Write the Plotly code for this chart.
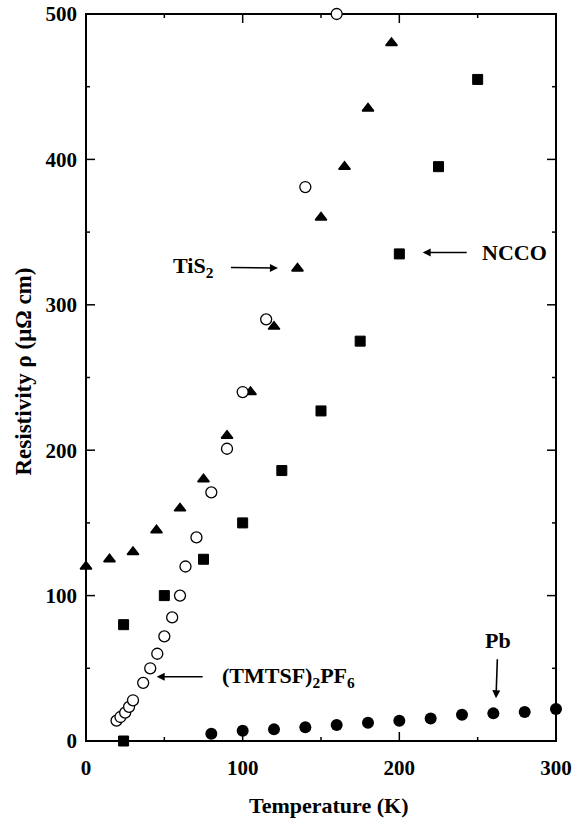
import plotly.graph_objects as go

# TiS2 (filled triangles)
tis2_T = [0, 15, 30, 45, 60, 75, 90, 105, 120, 135, 150, 165, 180, 195]
tis2_rho = [120, 125, 130, 145, 160, 180, 210, 240, 285, 325, 360, 395, 435, 480]

# NCCO (filled squares)
ncco_T = [24, 24, 50, 75, 100, 125, 150, 175, 200, 225, 250]
ncco_rho = [0, 80, 100, 125, 150, 186, 227, 275, 335, 395, 455]

# (TMTSF)2PF6 (open circles)
tmtsf_T = [19.5, 22, 25, 27.5, 30, 36.5, 41, 45.5, 50, 55, 60, 63.5, 70.5, 80, 90, 100, 115, 140, 160]
tmtsf_rho = [14, 16.5, 19.5, 23.5, 28, 40, 50, 60, 72, 85, 100, 120, 140, 171, 201, 240, 290, 381, 500]

# Pb (filled circles)
pb_T = [80, 100, 120, 140, 160, 180, 200, 220, 240, 260, 280, 300]
pb_rho = [5, 7, 8, 9.5, 11, 12.5, 14, 15.5, 18, 19, 20, 22]

x_range = [0, 300]
y_range = [0, 500]
x_ticks = [0, 100, 200, 300]
x_minor = [50, 150, 250]
y_ticks = [0, 100, 200, 300, 400, 500]
y_minor = [50, 150, 250, 350, 450]

FONT = "Liberation Serif"
BLACK = "#000000"

W, H = 574, 821
ML, MR, MT, MB = 86, 18, 14, 80
PW, PH = W - ML - MR, H - MT - MB
px_per_x = PW / (x_range[1] - x_range[0])
px_per_y = PH / (y_range[1] - y_range[0])

# plotly draws "line-ew"/"line-ns" symbols 1.4 x the marker size long
LINE_SYM = 1.4

fig = go.Figure()

x0, x1 = x_range
y0, y1 = y_range
xm, ym = (x0 + x1) / 2, (y0 + y1) / 2

# ---- plot frame (line-shaped markers spanning each side) ----
fig.add_trace(go.Scatter(x=[xm, xm], y=[y0, y1], mode="markers", cliponaxis=False, hoverinfo="skip",
                         marker=dict(symbol="line-ew", size=(PW + 2) / LINE_SYM, color=BLACK,
                                     line=dict(color=BLACK, width=2))))
fig.add_trace(go.Scatter(x=[x0, x1], y=[ym, ym], mode="markers", cliponaxis=False, hoverinfo="skip",
                         marker=dict(symbol="line-ns", size=(PH + 2) / LINE_SYM, color=BLACK,
                                     line=dict(color=BLACK, width=2))))

# ---- tick marks pointing inward on all four sides ----
def xtick_trace(vals, length):
    off = length / 2 / px_per_y
    xs = [v for v in vals for _ in (0, 1)]
    ys = [y for _ in vals for y in (y0 + off, y1 - off)]
    return go.Scatter(x=xs, y=ys, mode="markers", cliponaxis=False, hoverinfo="skip",
                      marker=dict(symbol="line-ns", size=length / LINE_SYM, color=BLACK,
                                  line=dict(color=BLACK, width=1.5)))

def ytick_trace(vals, length):
    off = length / 2 / px_per_x
    ys = [v for v in vals for _ in (0, 1)]
    xs = [x for _ in vals for x in (x0 + off, x1 - off)]
    return go.Scatter(x=xs, y=ys, mode="markers", cliponaxis=False, hoverinfo="skip",
                      marker=dict(symbol="line-ew", size=length / LINE_SYM, color=BLACK,
                                  line=dict(color=BLACK, width=1.5)))

fig.add_trace(xtick_trace(x_ticks, 9))
fig.add_trace(xtick_trace(x_minor, 4))
fig.add_trace(ytick_trace(y_ticks, 9))
fig.add_trace(ytick_trace(y_minor, 4))

# ---- data ----
fig.add_trace(go.Scatter(x=tis2_T, y=tis2_rho, mode="markers", cliponaxis=False,
                         marker=dict(symbol="triangle-up", size=10, color=BLACK,
                                     line=dict(color=BLACK, width=1.5))))
fig.add_trace(go.Scatter(x=ncco_T, y=ncco_rho, mode="markers", cliponaxis=False,
                         marker=dict(symbol="square", size=10, color=BLACK,
                                     line=dict(color=BLACK, width=1))))
fig.add_trace(go.Scatter(x=tmtsf_T, y=tmtsf_rho, mode="markers", cliponaxis=False,
                         marker=dict(symbol="circle", size=11, color="white",
                                     line=dict(color=BLACK, width=1.3))))
fig.add_trace(go.Scatter(x=pb_T, y=pb_rho, mode="markers", cliponaxis=False,
                         marker=dict(symbol="circle", size=12, color=BLACK,
                                     line=dict(color=BLACK, width=0))))

tick_font = dict(family=FONT, size=21, color=BLACK)

fig.update_layout(
    width=W, height=H,
    margin=dict(l=ML, r=MR, t=MT, b=MB, autoexpand=False),
    paper_bgcolor="white", plot_bgcolor="white",
    showlegend=False,
    font=dict(family=FONT, color=BLACK),
    xaxis=dict(range=x_range, tickvals=x_ticks, ticktext=["<b>%d</b>" % v for v in x_ticks],
               showline=False, ticks="", ticklabelstandoff=12, automargin=False,
               showgrid=False, zeroline=False, tickfont=tick_font),
    yaxis=dict(range=y_range, tickvals=y_ticks, ticktext=["<b>%d</b>" % v for v in y_ticks],
               showline=False, ticks="", ticklabelstandoff=8, automargin=False,
               showgrid=False, zeroline=False, tickfont=tick_font),
)

lab_font = dict(family=FONT, size=22, color=BLACK, weight="bold")

annotations = [
    dict(text="Temperature (K)", xref="paper", yref="paper", x=0.5, y=0,
         xanchor="center", yanchor="middle", xshift=7, yshift=-64, showarrow=False, font=lab_font),
    dict(text="Resistivity ρ (μΩ cm)", xref="paper", yref="paper", x=0, y=0.5,
         xanchor="center", yanchor="middle", xshift=-63, yshift=6, textangle=-90,
         showarrow=False, font=dict(family=FONT, size=23, color=BLACK, weight="bold")),
    dict(text="TiS<sub>2</sub>", x=122.5, y=325.3, ax=-84, ay=-1, showarrow=True,
         arrowhead=2, arrowsize=1, arrowwidth=1.6, arrowcolor=BLACK, standoff=0,
         borderpad=16, font=lab_font),
    dict(text="NCCO", x=214.9, y=336, ax=92, ay=0, showarrow=True,
         arrowhead=2, arrowsize=1, arrowwidth=1.6, arrowcolor=BLACK, standoff=0,
         borderpad=15, font=lab_font),
    dict(text="(TMTSF)<sub>2</sub>PF<sub>6</sub>", x=45.1, y=44.2, ax=132, ay=0, showarrow=True,
         arrowhead=2, arrowsize=1, arrowwidth=1.6, arrowcolor=BLACK, standoff=0,
         borderpad=19, font=lab_font),
    dict(text="Pb", x=261.7, y=29.4, ax=2, ay=-58, showarrow=True,
         arrowhead=2, arrowsize=1, arrowwidth=1.6, arrowcolor=BLACK, standoff=0,
         borderpad=6, font=lab_font),
]
fig.update_layout(annotations=annotations)

fig.write_html("out.html", config={"staticPlot": True})
